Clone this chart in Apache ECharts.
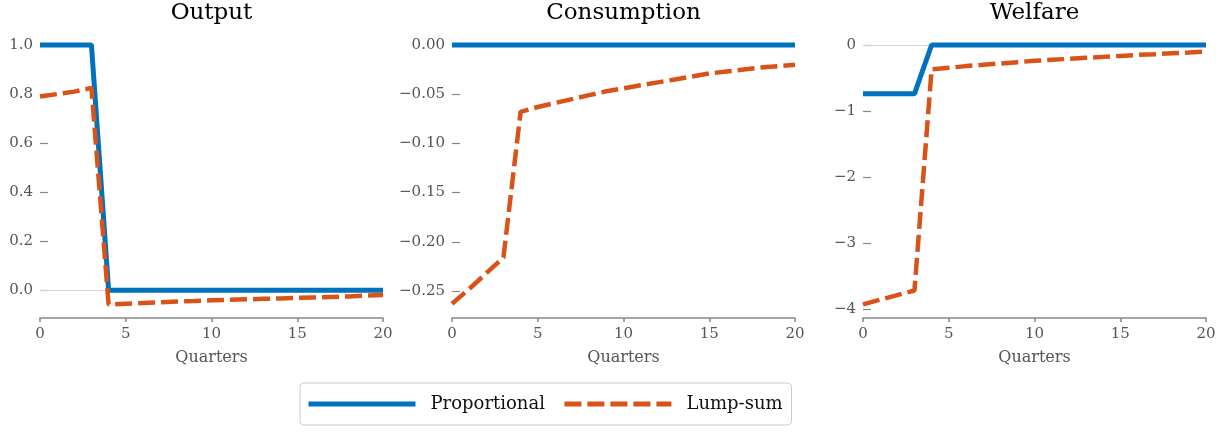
<!DOCTYPE html>
<html>
<head>
<meta charset="utf-8">
<script src="https://cdn.jsdelivr.net/npm/echarts@6/dist/echarts.min.js"></script>
<style>
  html, body { margin: 0; padding: 0; background: #fff; }
  #chart { width: 1229px; height: 432px; }
</style>
</head>
<body>
<div id="chart"></div>
<script>
  // data
  const quarters = [0, 1, 2, 3, 4, 5, 6, 7, 8, 9, 10, 11, 12, 13, 14, 15, 16, 17, 18, 19, 20]
  const panelTitles = ['Output', 'Consumption', 'Welfare']
  const seriesNames = ['Proportional', 'Lump-sum']

  const outputProportional = [1, 1, 1, 1, 0, 0, 0, 0, 0, 0, 0, 0, 0, 0, 0, 0, 0, 0, 0, 0, 0]
  const outputLumpSum = [0.79, 0.80, 0.81, 0.825, -0.058, -0.055, -0.052, -0.049, -0.046, -0.044,
    -0.041, -0.039, -0.037, -0.035, -0.033, -0.031, -0.029, -0.027, -0.025, -0.022, -0.019]

  const consProportional = [0, 0, 0, 0, 0, 0, 0, 0, 0, 0, 0, 0, 0, 0, 0, 0, 0, 0, 0, 0, 0]
  const consLumpSum = [-0.263, -0.248, -0.232, -0.216, -0.068, -0.063, -0.059, -0.055, -0.051, -0.047,
    -0.044, -0.041, -0.038, -0.035, -0.032, -0.029, -0.027, -0.025, -0.023, -0.0215, -0.020]

  const welfProportional = [-0.74, -0.74, -0.74, -0.74, 0, 0, 0, 0, 0, 0, 0, 0, 0, 0, 0, 0, 0, 0, 0, 0, 0]
  const welfLumpSum = [-3.93, -3.86, -3.79, -3.72, -0.37, -0.345, -0.32, -0.30, -0.28, -0.26,
    -0.24, -0.225, -0.21, -0.195, -0.18, -0.165, -0.15, -0.14, -0.125, -0.113, -0.10]

  const xTicks = [0, 5, 10, 15, 20]
  const outputTicks = [0, 0.2, 0.4, 0.6, 0.8, 1.0]
  const consTicks = [-0.25, -0.2, -0.15, -0.1, -0.05, 0]
  const welfTicks = [-4, -3, -2, -1, 0]

  const panels = [
    { title: panelTitles[0], prop: outputProportional, lump: outputLumpSum, ticks: outputTicks, digits: 1, min: -0.113, max: 1.053, zeroLine: true },
    { title: panelTitles[1], prop: consProportional, lump: consLumpSum, ticks: consTicks, digits: 2, min: -0.2775, max: 0.0132, zeroLine: false },
    { title: panelTitles[2], prop: welfProportional, lump: welfLumpSum, ticks: welfTicks, digits: 0, min: -4.137, max: 0.197, zeroLine: true }
  ]

  const FONT = 'DejaVu Serif'
  const BLUE = '#0072BD'
  const ORANGE = '#D95319'
  const gridLefts = [40, 452, 863]
  const gridWidth = 343

  const pairs = (ys) => quarters.map((q, i) => [q, ys[i]])
  const fmt = (d) => (v) => v.toFixed(d).replace('-', '\u2212')

  const chart = echarts.init(document.getElementById('chart'))

  const option = {
    animation: false,
    backgroundColor: '#fff',
    title: panels.map((p, i) => ({
      text: p.title,
      left: gridLefts[i] + gridWidth / 2,
      textAlign: 'center',
      top: 2,
      padding: 0,
      textStyle: { fontFamily: FONT, fontSize: 23, fontWeight: 'normal', color: '#000' }
    })),
    legend: {
      data: seriesNames,
      left: 300,
      top: 383,
      itemWidth: 107,
      itemHeight: 14,
      itemGap: 17,
      padding: [12, 9, 12, 6],
      borderColor: '#cccccc',
      borderWidth: 1,
      borderRadius: 4,
      itemStyle: { opacity: 0 },
      lineStyle: { width: 5 },
      textStyle: { fontFamily: FONT, fontSize: 18, color: '#111', padding: [0, 0, 0, 10] }
    },
    grid: panels.map((p, i) => ({
      left: gridLefts[i],
      top: 32,
      width: gridWidth,
      height: 286
    })),
    xAxis: panels.map((p, i) => ({
      type: 'value',
      gridIndex: i,
      min: 0,
      max: 20,
      interval: 5,
      name: 'Quarters',
      nameLocation: 'middle',
      nameGap: 32,
      nameTextStyle: { fontFamily: FONT, fontSize: 16, color: '#555' },
      axisLine: { onZero: false, lineStyle: { color: '#888', width: 1.5 } },
      axisTick: { length: 4, lineStyle: { color: '#888', width: 1.5 } },
      axisLabel: { fontFamily: FONT, fontSize: 15, color: '#555', margin: 9 },
      splitLine: { show: false }
    })),
    yAxis: panels.map((p, i) => ({
      type: 'value',
      gridIndex: i,
      min: p.min,
      max: p.max,
      axisLine: { show: false },
      axisTick: { show: true, inside: true, length: 8, customValues: p.ticks, lineStyle: { color: '#888', width: 1.2 } },
      axisLabel: { customValues: p.ticks, formatter: fmt(p.digits), fontFamily: FONT, fontSize: 15, color: '#555', margin: 7 },
      splitLine: { show: false }
    })),
    series: []
  }

  panels.forEach((p, i) => {
    if (p.zeroLine) {
      option.series.push({
        type: 'line',
        name: 'zero',
        xAxisIndex: i,
        yAxisIndex: i,
        data: pairs(p.prop),
        symbol: 'none',
        lineStyle: { opacity: 0 },
        z: 1,
        silent: true,
        markLine: {
          silent: true,
          z: 1,
          symbol: ['none', 'none'],
          label: { show: false },
          lineStyle: { color: '#d6d6d6', width: 1, type: 'solid' },
          data: [{ yAxis: 0 }]
        }
      })
    }
    option.series.push({
      type: 'line',
      name: seriesNames[0],
      xAxisIndex: i,
      yAxisIndex: i,
      data: pairs(p.prop),
      symbol: 'none',
      color: BLUE,
      lineStyle: { color: BLUE, width: 5 },
      z: 3
    })
    option.series.push({
      type: 'line',
      name: seriesNames[1],
      xAxisIndex: i,
      yAxisIndex: i,
      data: pairs(p.lump),
      symbol: 'none',
      color: ORANGE,
      lineStyle: { color: ORANGE, width: 4.5, type: [17, 6] },
      z: 4
    })
  })

  chart.setOption(option)
</script>
</body>
</html>
